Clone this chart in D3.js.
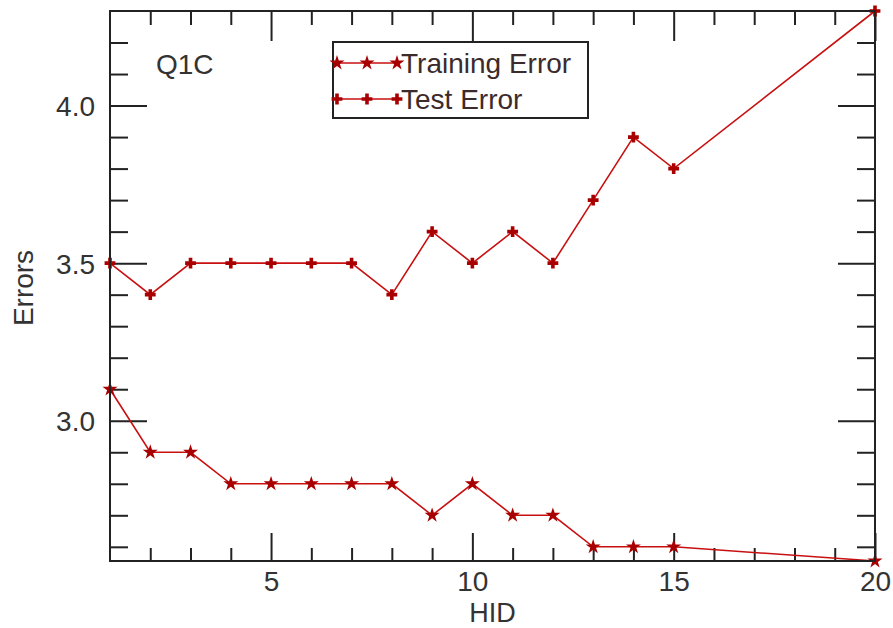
<!DOCTYPE html>
<html>
<head>
<meta charset="utf-8">
<script src="https://cdn.jsdelivr.net/npm/d3@7"></script>
<style>
  html, body { margin: 0; padding: 0; background: #fff; }
  svg { display: block; }
  text { font-family: "Liberation Sans", Arial, sans-serif; }
</style>
</head>
<body>
<svg id="chart" width="893" height="628"></svg>
<script>
// ---- data ----
const hid = [1, 2, 3, 4, 5, 6, 7, 8, 9, 10, 11, 12, 13, 14, 15, 20];
const trainingError = [3.1, 2.9, 2.9, 2.8, 2.8, 2.8, 2.8, 2.8, 2.7, 2.8, 2.7, 2.7, 2.6, 2.6, 2.6, 2.555];
const testError = [3.5, 3.4, 3.5, 3.5, 3.5, 3.5, 3.5, 3.4, 3.6, 3.5, 3.6, 3.5, 3.7, 3.9, 3.8, 4.3];
const xMajorTicks = [5, 10, 15, 20];
const xMinorTicks = d3.range(2, 20).filter(v => v % 5 !== 0);
const yMajorTicks = [3.0, 3.5, 4.0];
const yMinorTicks = [2.6, 2.7, 2.8, 2.9, 3.1, 3.2, 3.3, 3.4, 3.6, 3.7, 3.8, 3.9, 4.1, 4.2];
const seriesNames = ["Training Error", "Test Error"];
const panelLabel = "Q1C";
const xTitle = "HID";
const yTitle = "Errors";

// ---- layout ----
const L = 110, R = 875, T = 11, B = 561;
const svg = d3.select("#chart");
const x = d3.scaleLinear().domain([1, 20]).range([L, R]);
const y = d3.scaleLinear().domain([2.555, 4.3]).range([B, T]);

const lineColor = "#c81010";
const markColor = "#a80000";
const axisColor = "#222";
const textColor = "#333";

// ---- axes ----
function styleAxis(g) {
  g.select(".domain").remove();
  g.selectAll(".tick line").attr("stroke", axisColor).attr("stroke-width", 2);
  g.selectAll(".tick text").attr("fill", textColor)
    .style("font-family", '"Liberation Sans", Arial, sans-serif')
    .style("font-size", "28px");
}
// bottom
svg.append("g").attr("transform", `translate(0,${B})`)
  .call(d3.axisBottom(x).tickValues(xMinorTicks).tickSize(-13).tickFormat(""))
  .call(styleAxis);
svg.append("g").attr("transform", `translate(0,${B})`)
  .call(d3.axisBottom(x).tickValues(xMajorTicks).tickSize(-28).tickFormat(d3.format("d")))
  .call(styleAxis)
  .call(g => g.selectAll(".tick text").attr("dy", null).attr("y", 30));
// top
svg.append("g").attr("transform", `translate(0,${T})`)
  .call(d3.axisTop(x).tickValues(xMinorTicks).tickSize(-14).tickFormat(""))
  .call(styleAxis);
svg.append("g").attr("transform", `translate(0,${T})`)
  .call(d3.axisTop(x).tickValues(xMajorTicks).tickSize(-30).tickFormat(""))
  .call(styleAxis);
// left
svg.append("g").attr("transform", `translate(${L},0)`)
  .call(d3.axisLeft(y).tickValues(yMinorTicks).tickSize(-18).tickFormat(""))
  .call(styleAxis);
svg.append("g").attr("transform", `translate(${L},0)`)
  .call(d3.axisLeft(y).tickValues(yMajorTicks).tickSize(-37).tickFormat(d3.format(".1f")))
  .call(styleAxis)
  .call(g => g.selectAll(".tick text").attr("x", -15).attr("dy", "0.36em"));
// right
svg.append("g").attr("transform", `translate(${R},0)`)
  .call(d3.axisRight(y).tickValues(yMinorTicks).tickSize(-18).tickFormat(""))
  .call(styleAxis);
svg.append("g").attr("transform", `translate(${R},0)`)
  .call(d3.axisRight(y).tickValues(yMajorTicks).tickSize(-37).tickFormat(""))
  .call(styleAxis);

// ---- series ----
const line = d3.line().x(d => x(d[0])).y(d => y(d[1]));
const trainPts = hid.map((h, i) => [h, trainingError[i]]);
const testPts = hid.map((h, i) => [h, testError[i]]);

const starSym = d3.symbol().type(d3.symbolStar).size(70);
const crossSym = d3.symbol().type(d3.symbolCross).size(65);

svg.append("path").datum(testPts).attr("d", line)
  .attr("fill", "none").attr("stroke", lineColor).attr("stroke-width", 1.6);
svg.append("path").datum(trainPts).attr("d", line)
  .attr("fill", "none").attr("stroke", lineColor).attr("stroke-width", 1.6);

svg.append("g").selectAll("path").data(testPts).join("path")
  .attr("d", crossSym)
  .attr("transform", d => `translate(${x(d[0])},${y(d[1])})`)
  .attr("fill", markColor);
svg.append("g").selectAll("path").data(trainPts).join("path")
  .attr("d", starSym)
  .attr("transform", d => `translate(${x(d[0])},${y(d[1])})`)
  .attr("fill", markColor);

// ---- frame ----
svg.append("rect").attr("x", L).attr("y", T).attr("width", R - L).attr("height", B - T)
  .attr("fill", "none").attr("stroke", axisColor).attr("stroke-width", 2);

// ---- titles ----
svg.append("text").attr("x", (L + R) / 2).attr("y", 622).attr("text-anchor", "middle")
  .attr("fill", textColor).style("font-size", "27px").text(xTitle);
svg.append("text").attr("transform", `translate(33,${(T + B) / 2 + 2}) rotate(-90)`)
  .attr("text-anchor", "middle").attr("fill", textColor).style("font-size", "28px").text(yTitle);
svg.append("text").attr("x", 156).attr("y", 74).attr("fill", textColor)
  .style("font-size", "28px").text(panelLabel);

// ---- legend ----
const lg = svg.append("g");
lg.append("rect").attr("x", 333).attr("y", 42).attr("width", 255).attr("height", 76)
  .attr("fill", "#fff").attr("stroke", axisColor).attr("stroke-width", 2);
const rows = [
  { name: seriesNames[0], sym: starSym, yy: 63 },
  { name: seriesNames[1], sym: crossSym, yy: 99 }
];
rows.forEach(r => {
  lg.append("line").attr("x1", 336).attr("x2", 397).attr("y1", r.yy).attr("y2", r.yy)
    .attr("stroke", lineColor).attr("stroke-width", 1.6);
  [337, 367, 397].forEach(px => {
    lg.append("path").attr("d", r.sym).attr("transform", `translate(${px},${r.yy})`)
      .attr("fill", markColor);
  });
  lg.append("text").attr("x", 401).attr("y", r.yy + 10).attr("fill", "#3d2a2a")
    .style("font-size", "28px").text(r.name);
});
</script>
</body>
</html>
